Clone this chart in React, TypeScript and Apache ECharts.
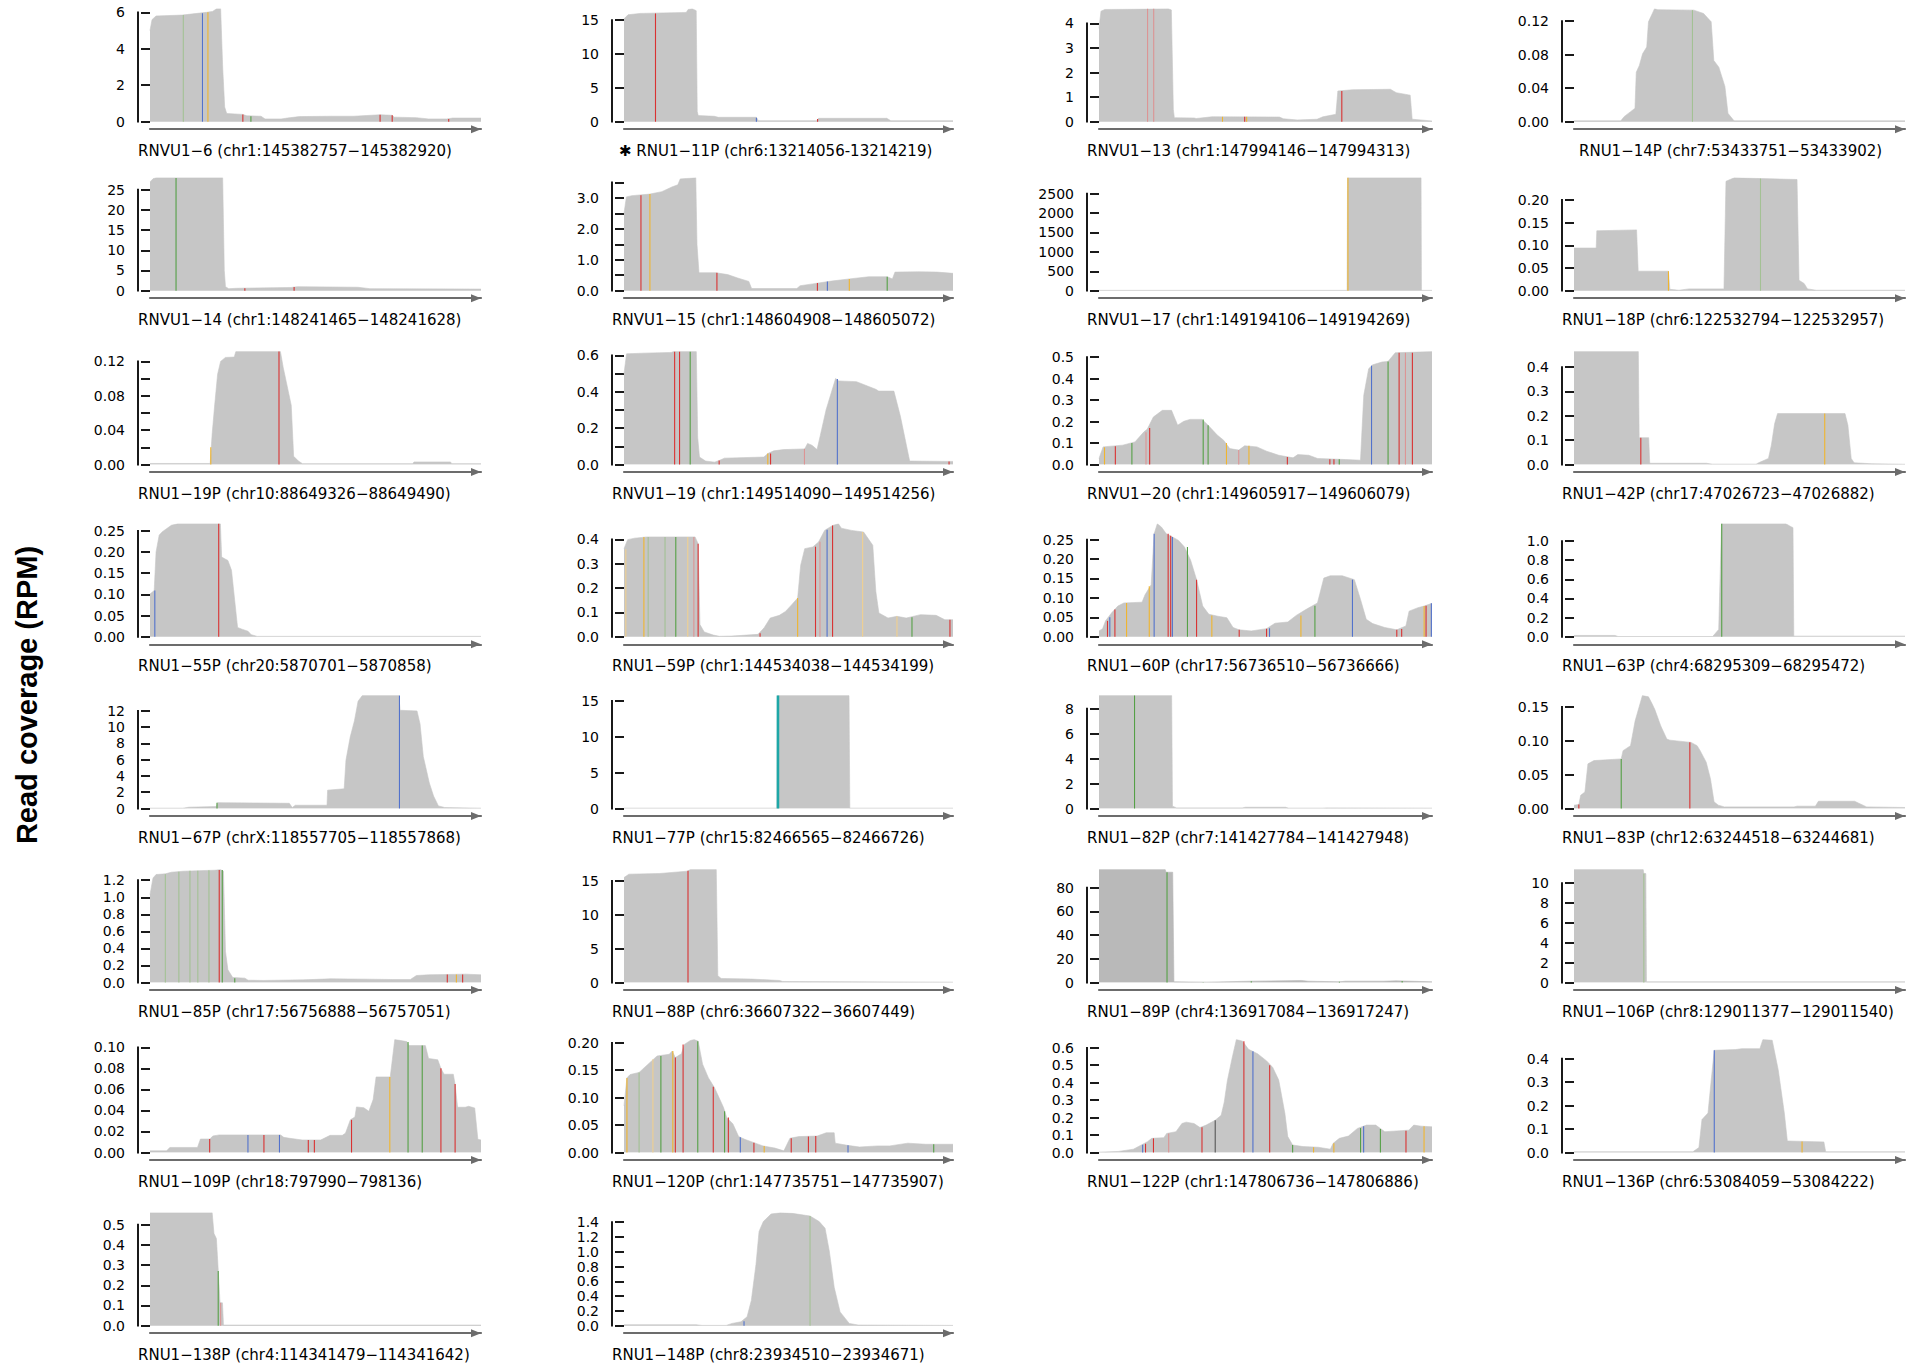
import React, { useEffect, useRef } from "react";
import * as echarts from "echarts";

// ---------- panel identity ----------
const names = ["RNVU1−6", "RNU1−11P", "RNVU1−13", "RNU1−14P", "RNVU1−14", "RNVU1−15", "RNVU1−17", "RNU1−18P",
  "RNU1−19P", "RNVU1−19", "RNVU1−20", "RNU1−42P", "RNU1−55P", "RNU1−59P", "RNU1−60P", "RNU1−63P",
  "RNU1−67P", "RNU1−77P", "RNU1−82P", "RNU1−83P", "RNU1−85P", "RNU1−88P", "RNU1−89P", "RNU1−106P",
  "RNU1−109P", "RNU1−120P", "RNU1−122P", "RNU1−136P", "RNU1−138P", "RNU1−148P"];
const chroms = ["chr1", "chr6", "chr1", "chr7", "chr1", "chr1", "chr1", "chr6", "chr10", "chr1", "chr1", "chr17",
  "chr20", "chr1", "chr17", "chr4", "chrX", "chr15", "chr7", "chr12", "chr17", "chr6", "chr4", "chr8",
  "chr18", "chr1", "chr1", "chr6", "chr4", "chr8"];
const starts = [145382757, 13214056, 147994146, 53433751, 148241465, 148604908, 149194106, 122532794,
  88649326, 149514090, 149605917, 47026723, 5870701, 144534038, 56736510, 68295309, 118557705, 82466565,
  141427784, 63244518, 56756888, 36607322, 136917084, 129011377, 797990, 147735751, 147806736, 53084059,
  114341479, 23934510];
const ends = [145382920, 13214219, 147994313, 53433902, 148241628, 148605072, 149194269, 122532957,
  88649490, 149514256, 149606079, 47026882, 5870858, 144534199, 56736666, 68295472, 118557868, 82466726,
  141427948, 63244681, 56757051, 36607449, 136917247, 129011540, 798136, 147735907, 147806886, 53084222,
  114341642, 23934671];
const starred = [false, true, false, false, false, false, false, false, false, false, false, false, false, false, false,
  false, false, false, false, false, false, false, false, false, false, false, false, false, false, false];

// ---------- y tick specs: step, label every n-th tick, top tick, decimals ----------
const tickStep = [2, 5, 1, 0.04, 5, 0.5, 500, 0.05, 0.02, 0.1, 0.1, 0.1, 0.05, 0.1, 0.05, 0.2, 2, 5, 2, 0.05, 0.2, 5, 20, 2, 0.02, 0.05, 0.1, 0.1, 0.1, 0.2];
const labelEvery = [1, 1, 1, 1, 1, 2, 1, 1, 2, 2, 1, 1, 1, 1, 1, 1, 1, 1, 1, 1, 1, 1, 1, 1, 1, 1, 1, 1, 1, 1];
const tickTop = [6, 15, 4, 0.12, 25, 3.5, 2500, 0.2, 0.12, 0.6, 0.5, 0.4, 0.25, 0.4, 0.25, 1.0, 12, 15, 8, 0.15, 1.2, 15, 80, 10, 0.1, 0.2, 0.6, 0.4, 0.5, 1.4];
const tickDec = [0, 0, 0, 2, 0, 1, 0, 2, 2, 1, 1, 1, 2, 1, 2, 1, 0, 0, 0, 2, 1, 0, 0, 0, 2, 2, 1, 1, 1, 1];

// ---------- coverage profiles: [position (bp from start), RPM] ----------
const covRNVU1_6 = [[0, 5.0], [1, 5.6], [3, 5.8], [16, 5.85], [28, 6.0], [31, 6.05], [33, 6.2], [35, 6.2], [36, 3.0], [37, 0.8], [38, 0.45], [46, 0.4], [48, 0.32], [55, 0.3], [57, 0.15], [65, 0.15], [68, 0.2], [74, 0.28], [90, 0.3], [101, 0.3], [114, 0.38], [120, 0.35], [121, 0.25], [132, 0.22], [138, 0.15], [147, 0.15], [150, 0.2], [164, 0.2]];
const covRNU1_11P = [[0, 15.2], [2, 15.8], [8, 16.0], [31, 16.15], [32, 16.6], [34, 16.7], [36, 16.4], [36.5, 1.5], [37, 0.9], [45, 0.8], [47, 0.65], [66, 0.65], [67, 0.15], [96, 0.15], [97, 0.5], [131, 0.5], [133, 0.15], [164, 0.15]];
const covRNVU1_13 = [[0, 3.8], [1, 4.5], [3, 4.57], [35, 4.6], [36.5, 4.55], [37.5, 0.5], [38, 0.16], [48, 0.15], [49, 0.13], [57, 0.2], [91, 0.19], [93, 0.12], [100, 0.07], [110, 0.1], [113, 0.2], [119.5, 0.3], [120.5, 1.25], [128, 1.3], [147, 1.32], [150, 1.18], [157, 1.08], [158, 0.1], [168, 0.03]];
const covRNU1_14P = [[0, 0.001], [21.5, 0.001], [23, 0.006], [26, 0.012], [28, 0.016], [28.6, 0.059], [30, 0.067], [31.5, 0.081], [33.4, 0.089], [34.2, 0.119], [37, 0.1347], [38.5, 0.1335], [55, 0.133], [59.5, 0.129], [63, 0.119], [64.2, 0.073], [66.5, 0.065], [69.3, 0.042], [70.7, 0.01], [73.5, 0.001], [152, 0.001]];
const covRNVU1_14 = [[0, 26.9], [1.5, 27.7], [3, 27.96], [36, 27.96], [36.8, 5], [37.4, 1.0], [39, 0.5], [43, 0.6], [70, 0.8], [73, 1.0], [103, 0.85], [109, 0.5], [164, 0.4]];
const covRNVU1_15 = [[0, 2.5], [1.2, 3.03], [4, 3.07], [13, 3.12], [19, 3.2], [24, 3.35], [27, 3.42], [28.2, 3.61], [36, 3.65], [36.6, 1.5], [37.6, 0.58], [46, 0.58], [52, 0.52], [57, 0.41], [62.6, 0.3], [64, 0.07], [86.7, 0.07], [88.3, 0.16], [94.6, 0.22], [104, 0.31], [113, 0.38], [122.7, 0.45], [132, 0.45], [134.6, 0.38], [135.9, 0.6], [148, 0.61], [157, 0.6], [165, 0.56]];
const covRNVU1_17 = [[0, 8], [122.2, 8], [122.4, 2908], [158.6, 2908], [158.8, 8], [164, 8]];
const covRNU1_18P = [[0, 0.094], [11, 0.094], [11.3, 0.132], [31, 0.134], [31.8, 0.043], [46.8, 0.043], [47.5, 0.003], [52, 0.001], [57, 0.004], [74.3, 0.004], [75.3, 0.241], [79.4, 0.249], [93, 0.247], [110.5, 0.245], [111.5, 0.023], [114, 0.016], [115.7, 0.004], [120, 0.001], [164, 0.001]];
const covRNU1_19P = [[0, 0.0012], [30, 0.0012], [31, 0.036], [32.2, 0.068], [33.7, 0.105], [35.2, 0.12], [37.6, 0.1246], [42, 0.125], [42.8, 0.1315], [65, 0.1315], [66.4, 0.113], [70.4, 0.069], [71.6, 0.0096], [74, 0.004], [76, 0.001], [131, 0.001], [131.6, 0.003], [149.8, 0.003], [150.4, 0.001], [165, 0.001]];
const covRNVU1_19 = [[0, 0.5], [1.3, 0.609], [10, 0.613], [24, 0.617], [25, 0.622], [36.7, 0.622], [37.4, 0.15], [38.3, 0.041], [41.4, 0.019], [46, 0.013], [48.3, 0.022], [51, 0.035], [71, 0.041], [73, 0.06], [76, 0.075], [81, 0.082], [91.7, 0.086], [93.2, 0.116], [95.4, 0.106], [98, 0.082], [99.5, 0.153], [102.6, 0.302], [107.4, 0.473], [109, 0.46], [118, 0.456], [127.8, 0.414], [129.3, 0.404], [137, 0.404], [140.3, 0.265], [145, 0.019], [165, 0.017], [167, 0.017]];
const covRNVU1_20 = [[0, 0.028], [2, 0.082], [11.6, 0.09], [17.6, 0.105], [22, 0.152], [23.6, 0.164], [26.6, 0.221], [31, 0.252], [35.5, 0.252], [38.5, 0.183], [41.5, 0.201], [44.5, 0.21], [50.4, 0.21], [53.4, 0.183], [58, 0.136], [61, 0.113], [64, 0.074], [68.4, 0.067], [71.3, 0.087], [77.3, 0.082], [82, 0.062], [88, 0.043], [95, 0.031], [97.3, 0.046], [102.7, 0.043], [107, 0.028], [120.6, 0.023], [128, 0.02], [129.6, 0.322], [132, 0.446], [134, 0.464], [138.5, 0.477], [141.5, 0.48], [145, 0.52], [163, 0.526]];
const covRNU1_42P = [[0, 0.464], [31.1, 0.464], [31.5, 0.11], [36.1, 0.11], [36.6, 0.005], [64, 0.005], [67, 0.0014], [88, 0.0014], [89.5, 0.008], [94, 0.025], [95.4, 0.079], [97, 0.168], [98.4, 0.209], [131, 0.209], [132.4, 0.161], [134, 0.025], [135.4, 0.007], [144, 0.003], [160, 0.001]];
const covRNU1_55P = [[0, 0.101], [2, 0.109], [2.9, 0.2], [4.4, 0.24], [5.9, 0.248], [10.2, 0.263], [13.2, 0.2666], [33.6, 0.2666], [34.2, 0.188], [37.2, 0.18], [38.9, 0.157], [40.1, 0.101], [41.8, 0.022], [43.9, 0.018], [46.8, 0.013], [48.3, 0.005], [51.2, 0.001], [158, 0.001]];
const covRNU1_59P = [[0, 0.362], [1.8, 0.399], [5.3, 0.405], [11.3, 0.41], [35, 0.41], [36.5, 0.382], [37.4, 0.05], [39.5, 0.02], [44, 0.007], [47, 0.002], [53, 0.003], [66, 0.01], [69, 0.037], [72, 0.077], [76.5, 0.088], [79.5, 0.104], [82.5, 0.131], [85.5, 0.159], [87, 0.294], [89, 0.362], [93, 0.369], [95.8, 0.389], [98.8, 0.437], [102.7, 0.457], [105.6, 0.464], [107, 0.446], [112, 0.437], [118, 0.43], [122.5, 0.376], [124, 0.186], [125.5, 0.098], [130, 0.077], [134.4, 0.084], [139, 0.077], [146, 0.091], [153.7, 0.088], [158, 0.07], [162, 0.07]];
const covRNU1_60P = [[0, 0.015], [1.7, 0.021], [3.1, 0.041], [6, 0.062], [8.9, 0.079], [11.7, 0.087], [20.3, 0.089], [21.7, 0.108], [24.6, 0.134], [26, 0.265], [27.5, 0.2907], [29.5, 0.282], [31.7, 0.265], [34.6, 0.257], [37.5, 0.248], [40.3, 0.231], [43.2, 0.197], [46, 0.147], [48.9, 0.079], [51.8, 0.058], [56, 0.053], [60.3, 0.049], [63.2, 0.024], [66, 0.018], [71.8, 0.015], [79, 0.021], [83, 0.035], [89, 0.038], [93, 0.055], [97.5, 0.07], [103, 0.087], [106, 0.151], [109, 0.157], [114.7, 0.157], [120.4, 0.147], [123.3, 0.096], [126, 0.045], [129, 0.034], [134.7, 0.024], [140.4, 0.018], [144.7, 0.028], [146.2, 0.066], [150.4, 0.075], [153.3, 0.079], [157, 0.086]];
const covRNU1_63P = [[0, 0.014], [20.3, 0.014], [21.8, 0.003], [68.7, 0.003], [71.7, 0.077], [73.1, 1.18], [105, 1.18], [107.5, 1.15], [108.5, 1.14], [108.9, 0.007], [164, 0.007]];
const covRNU1_67P = [[0, 0.04], [16.3, 0.04], [19.3, 0.16], [32.9, 0.24], [33.5, 0.72], [69, 0.64], [70.5, 0.12], [72, 0.4], [87.7, 0.4], [88, 2.26], [96.2, 2.42], [97.1, 5.96], [99.2, 8.78], [101.3, 10.8], [103.1, 13.2], [105.2, 13.9], [123.3, 13.9], [123.9, 12.08], [132.3, 12.0], [133.8, 10.4], [135.4, 6.4], [138.4, 3.14], [140.5, 1.53], [142.9, 0.32], [146, 0.12], [164, 0.04]];
const covRNU1_77P = [[0, 0.05], [75.3, 0.05], [75.6, 15.76], [110.8, 15.76], [111.2, 0.05], [162, 0.05]];
const covRNU1_82P = [[0, 9.06], [36, 9.06], [36.4, 0.19], [38.5, 0.05], [71, 0.05], [72.5, 0.1], [92.5, 0.1], [94, 0.03], [111, 0.03], [112.6, 0.05], [165, 0.03]];
const covRNU1_83P = [[0, 0.0049], [2.4, 0.0059], [3.3, 0.0195], [5.4, 0.0244], [6.9, 0.066], [9.9, 0.0708], [23.4, 0.0733], [24.3, 0.0855], [28, 0.0928], [30.3, 0.1295], [32.4, 0.1515], [33.9, 0.167], [36.9, 0.165], [38.5, 0.156], [40, 0.1466], [43, 0.122], [46, 0.1026], [47.5, 0.101], [58, 0.0977], [61, 0.0928], [62.5, 0.0855], [65.5, 0.0684], [67.6, 0.044], [69.4, 0.0098], [71.5, 0.0049], [74.5, 0.0024], [109, 0.0024], [110.5, 0.0034], [119.6, 0.0034], [121.1, 0.0107], [139, 0.0107], [145, 0.0024], [164, 0.0015]];
const covRNU1_85P = [[0, 1.031], [1.5, 1.227], [3, 1.267], [7.6, 1.275], [10.6, 1.294], [16.7, 1.306], [31.9, 1.318], [34.9, 1.326], [36.4, 1.306], [37.4, 0.365], [38.6, 0.149], [41, 0.059], [47, 0.051], [48.6, 0.027], [56, 0.024], [76, 0.031], [89.6, 0.043], [108, 0.039], [120, 0.035], [129, 0.035], [132, 0.082], [138, 0.09], [156.4, 0.098], [164, 0.09]];
const covRNU1_88P = [[0, 15.5], [1.9, 16.0], [13.9, 16.1], [24.6, 16.44], [25.8, 16.69], [35.9, 16.69], [36.5, 1.0], [37.8, 0.6], [49.8, 0.5], [60.5, 0.3], [61.7, 0.15], [128, 0.05]];
const covRNU1_89P = [[0, 95.3], [32.6, 95.3], [33, 93.0], [36.3, 93.0], [36.9, 0.6], [53, 0.3], [75, 1.1], [99.8, 1.7], [103, 1.1], [118.4, 0.6], [121.5, 1.1], [140, 1.1], [146.3, 1.4], [164, 0.6]];
const covRNU1_106P = [[0, 11.36], [34.3, 11.36], [34.6, 10.95], [35.6, 10.95], [35.9, 0.07], [164, 0.07]];
const covRNU1_109P = [[0, 0.0016], [7.4, 0.0016], [8.8, 0.0048], [21.1, 0.0048], [22.4, 0.0128], [26.6, 0.0128], [27.9, 0.0157], [30.7, 0.0167], [58, 0.0167], [59.4, 0.0144], [62, 0.0135], [67.6, 0.0119], [75.8, 0.0119], [80, 0.0163], [85.4, 0.0163], [86.8, 0.0183], [89, 0.0311], [91, 0.0337], [91.7, 0.0433], [95, 0.0425], [97.2, 0.0391], [99.1, 0.0503], [100.4, 0.0718], [106.7, 0.0718], [108.7, 0.1074], [114, 0.1054], [115, 0.1016], [122.3, 0.1016], [123.7, 0.0894], [127.8, 0.0881], [129.2, 0.0798], [130.6, 0.0744], [134.7, 0.0744], [135.5, 0.0647], [136.6, 0.043], [140, 0.043], [141.5, 0.0439], [144.2, 0.0423], [145.6, 0.0125], [147, 0.0119]];
const covRNU1_120P = [[0, 0.085], [1.4, 0.136], [2.9, 0.142], [7.2, 0.146], [11.5, 0.161], [15.8, 0.176], [21.6, 0.179], [23, 0.185], [24.5, 0.173], [27.4, 0.18], [28.8, 0.197], [31.7, 0.2042], [33.5, 0.206], [35.4, 0.203], [37.5, 0.161], [40.3, 0.136], [43.2, 0.118], [47.5, 0.082], [49, 0.064], [52, 0.052], [54.7, 0.029], [57.6, 0.024], [62, 0.018], [66.3, 0.012], [72, 0.008], [76.3, 0.003], [79.2, 0.026], [83.5, 0.029], [92.2, 0.03], [96.5, 0.036], [100.3, 0.036], [100.8, 0.017], [106.6, 0.013], [112.4, 0.01], [121, 0.012], [126.8, 0.012], [135.4, 0.017], [144, 0.015], [157, 0.015]];
const covRNU1_122P = [[0, 0.002], [8.8, 0.006], [15.6, 0.019], [19.2, 0.043], [22, 0.062], [23.9, 0.081], [29.4, 0.085], [30.7, 0.109], [34.9, 0.119], [37.6, 0.166], [39.5, 0.174], [43.1, 0.166], [45.8, 0.143], [48.6, 0.157], [52.7, 0.185], [55.4, 0.213], [56.8, 0.289], [58.2, 0.411], [60.4, 0.543], [62.3, 0.6475], [65.1, 0.638], [67.8, 0.591], [71.9, 0.566], [76, 0.525], [78.8, 0.487], [81.5, 0.415], [84.3, 0.223], [85.6, 0.091], [87.8, 0.043], [92.5, 0.034], [99.4, 0.03], [104.9, 0.019], [106.2, 0.053], [109, 0.081], [113.1, 0.094], [117.2, 0.138], [121.3, 0.157], [125.5, 0.157], [128.2, 0.132], [129.6, 0.119], [140.5, 0.128], [142.7, 0.157], [146, 0.151], [151, 0.147]];
const covRNU1_136P = [[0, 0.003], [58.9, 0.003], [61.9, 0.021], [63.4, 0.14], [66.4, 0.168], [68, 0.309], [69.5, 0.435], [80, 0.438], [83.1, 0.442], [92.1, 0.442], [93.6, 0.481], [98.2, 0.478], [101.2, 0.351], [104.2, 0.168], [105.7, 0.049], [123.8, 0.045], [124.7, 0.003], [164, 0.003]];
const covRNU1_138P = [[0, 0.559], [30.8, 0.559], [31.7, 0.456], [32.9, 0.431], [33.8, 0.275], [34.7, 0.113], [35.9, 0.113], [36.4, 0.003], [164, 0.003]];
const covRNU1_148P = [[0, 0.013], [35.5, 0.013], [38.4, 0.004], [50.3, 0.004], [53.2, 0.031], [57.6, 0.053], [60.6, 0.12], [62.7, 0.342], [65, 0.831], [66.5, 1.276], [68.6, 1.409], [72.4, 1.511], [76.9, 1.529], [82.8, 1.52], [91.6, 1.484], [96.1, 1.409], [99, 1.32], [101.1, 1.009], [103.5, 0.52], [106.4, 0.187], [110.9, 0.031], [115.3, 0.009], [162, 0.004]];

// ---------- mismatched bases: [position, RPM, base colour index] ----------
const misRNVU1_6 = [[16.5, 5.85, 7], [26, 5.95, 2], [28.7, 6.0, 3], [46, 0.4, 0], [50, 0.3, 1], [114, 0.38, 0], [120, 0.35, 0], [148, 0.15, 0]];
const misRNU1_11P = [[15.7, 16.0, 0], [66, 0.6, 2], [96.5, 0.4, 0]];
const misRNVU1_13 = [[24.5, 4.6, 4], [27.6, 4.6, 4], [62.3, 0.2, 3], [73.5, 0.2, 0], [74.5, 0.2, 3], [122.5, 1.25, 0]];
const misRNU1_14P = [[54.4, 0.133, 7]];
const misRNVU1_14 = [[12.9, 27.9, 1], [47, 0.6, 0], [71.4, 0.9, 0]];
const misRNVU1_15 = [[8.5, 3.08, 0], [13, 3.12, 3], [46.6, 0.58, 0], [97, 0.25, 0], [102, 0.3, 2], [113, 0.38, 3], [132, 0.45, 1]];
const misRNVU1_17 = [[122.6, 2908, 3]];
const misRNU1_18P = [[46.8, 0.043, 3], [92.4, 0.247, 7]];
const misRNU1_19P = [[64.3, 0.1315, 0], [30.3, 0.02, 3]];
const misRNVU1_19 = [[25.7, 0.62, 0], [28.2, 0.62, 0], [33.6, 0.62, 1], [48.3, 0.022, 0], [73, 0.06, 3], [74.4, 0.06, 0], [91.6, 0.086, 4], [108.3, 0.47, 2], [165, 0.017, 0]];
const misRNVU1_20 = [[2.7, 0.08, 3], [8, 0.085, 0], [16.1, 0.1, 1], [23, 0.15, 4], [24.8, 0.17, 0], [51, 0.21, 1], [53.4, 0.183, 1], [62.4, 0.1, 3], [68.4, 0.067, 4], [73.4, 0.087, 3], [92.2, 0.035, 0], [113, 0.025, 0], [115, 0.025, 0], [117.6, 0.025, 1], [133.4, 0.46, 2], [141.5, 0.48, 1], [146.9, 0.52, 0], [150, 0.52, 4], [153.4, 0.52, 0]];
const misRNU1_42P = [[32.3, 0.11, 0], [121.2, 0.209, 3]];
const misRNU1_55P = [[2.3, 0.109, 2], [32.8, 0.2666, 0]];
const misRNU1_59P = [[0.9, 0.36, 8], [9.8, 0.41, 3], [11.9, 0.41, 7], [20.2, 0.41, 7], [25.5, 0.41, 1], [31.4, 0.41, 8], [34.4, 0.41, 4], [36.5, 0.382, 0], [67, 0.015, 0], [85.5, 0.159, 3], [94.3, 0.37, 0], [96.5, 0.39, 4], [100, 0.44, 2], [102.7, 0.457, 0], [117.5, 0.43, 8], [134.4, 0.084, 8], [141.8, 0.08, 1], [160.5, 0.07, 0]];
const misRNU1_60P = [[4, 0.041, 0], [5.1, 0.05, 2], [7.5, 0.07, 0], [13, 0.087, 3], [23.7, 0.13, 3], [26, 0.265, 2], [32.6, 0.265, 0], [33.8, 0.26, 0], [34.6, 0.257, 2], [41.7, 0.231, 1], [46, 0.147, 0], [53.2, 0.055, 3], [66.1, 0.018, 0], [79, 0.021, 0], [80.4, 0.022, 2], [95.2, 0.055, 3], [101.8, 0.08, 1], [119.5, 0.147, 2], [140.4, 0.018, 0], [142.7, 0.02, 0], [153.3, 0.079, 3], [154.2, 0.08, 0], [156.7, 0.086, 2]];
const misRNU1_63P = [[73.2, 1.18, 1]];
const misRNU1_67P = [[33.2, 0.72, 1], [123.6, 13.9, 2]];
const misRNU1_77P = [[75.8, 15.76, 5]];
const misRNU1_82P = [[17.6, 9.06, 1]];
const misRNU1_83P = [[2.4, 0.006, 0], [23.4, 0.073, 1], [57.4, 0.098, 0]];
const misRNU1_85P = [[7.6, 1.27, 7], [14.3, 1.3, 7], [19.8, 1.31, 7], [23.7, 1.31, 7], [29.2, 1.318, 7], [34.3, 1.32, 0], [35.8, 1.32, 1], [42, 0.05, 1], [147.3, 0.095, 0], [151.8, 0.095, 3], [154.9, 0.095, 0]];
const misRNU1_88P = [[24.9, 16.5, 0]];
const misRNU1_89P = [[33.5, 93, 1], [51.3, 0.3, 1], [75, 1.1, 1], [118.4, 0.6, 1], [149.3, 1.2, 1]];
const misRNU1_106P = [[34.6, 10.95, 7]];
const misRNU1_109P = [[26.5, 0.0128, 0], [43.5, 0.0167, 2], [50.6, 0.0167, 0], [57.5, 0.0167, 2], [70.3, 0.0119, 0], [73, 0.0119, 0], [89.5, 0.031, 0], [106.5, 0.0718, 3], [114.6, 0.105, 1], [120.9, 0.1016, 1], [129.2, 0.08, 0], [135.5, 0.065, 0]];
const misRNU1_120P = [[1.4, 0.136, 3], [7.2, 0.146, 7], [13.8, 0.17, 8], [17.6, 0.176, 1], [23.3, 0.185, 3], [24.5, 0.173, 0], [28.2, 0.197, 0], [35.2, 0.203, 1], [42.6, 0.12, 0], [48, 0.075, 1], [49.8, 0.064, 0], [55.5, 0.028, 2], [62, 0.018, 0], [66.9, 0.012, 3], [79.8, 0.026, 0], [88, 0.029, 0], [91.5, 0.03, 0], [106.9, 0.013, 2], [147.8, 0.015, 1]];
const misRNU1_122P = [[19.8, 0.045, 2], [21.1, 0.05, 0], [24.7, 0.081, 0], [31.6, 0.109, 4], [46.7, 0.145, 0], [52.7, 0.185, 6], [65.7, 0.638, 0], [69.8, 0.58, 2], [77.4, 0.5, 0], [87.8, 0.043, 1], [97.3, 0.03, 3], [106.5, 0.053, 3], [118.6, 0.14, 1], [120, 0.15, 2], [127.6, 0.135, 1], [139.2, 0.125, 0], [147.4, 0.151, 3]];
const misRNU1_136P = [[69.5, 0.435, 2], [113, 0.047, 3]];
const misRNU1_138P = [[33.8, 0.27, 1], [35, 0.113, 4]];
const misRNU1_148P = [[59.1, 0.06, 2], [91.6, 1.484, 7]];

const coverage = [covRNVU1_6, covRNU1_11P, covRNVU1_13, covRNU1_14P, covRNVU1_14, covRNVU1_15, covRNVU1_17, covRNU1_18P,
  covRNU1_19P, covRNVU1_19, covRNVU1_20, covRNU1_42P, covRNU1_55P, covRNU1_59P, covRNU1_60P, covRNU1_63P,
  covRNU1_67P, covRNU1_77P, covRNU1_82P, covRNU1_83P, covRNU1_85P, covRNU1_88P, covRNU1_89P, covRNU1_106P,
  covRNU1_109P, covRNU1_120P, covRNU1_122P, covRNU1_136P, covRNU1_138P, covRNU1_148P];
const mismatches = [misRNVU1_6, misRNU1_11P, misRNVU1_13, misRNU1_14P, misRNVU1_14, misRNVU1_15, misRNVU1_17, misRNU1_18P,
  misRNU1_19P, misRNVU1_19, misRNVU1_20, misRNU1_42P, misRNU1_55P, misRNU1_59P, misRNU1_60P, misRNU1_63P,
  misRNU1_67P, misRNU1_77P, misRNU1_82P, misRNU1_83P, misRNU1_85P, misRNU1_88P, misRNU1_89P, misRNU1_106P,
  misRNU1_109P, misRNU1_120P, misRNU1_122P, misRNU1_136P, misRNU1_138P, misRNU1_148P];

// ---------- styling / layout ----------
const W = 1919;
const H = 1368;
const COL_X0 = [150, 624, 1099, 1574];
const COL_X1 = [481, 953, 1432, 1905];
const ROW_ZERO = [121.7, 290.7, 464.5, 636.8, 808.5, 982.5, 1152.5, 1325.7];
const PLOT_H = 113;
const AXIS_GAP = 12;
const LABEL_DX: Record<number, number> = { 1: 7, 3: 17 };
const FILL = "#c6c6c6";
const FILL_DARK: Record<number, string> = { 22: "#b9b9b9" };
const MIS_COLORS = ["#d93232", "#55a046", "#5272cc", "#f0b52e", "#dc9494", "#1ea7a7", "#555555", "#a3c194", "#f0d090"];
const PANEL_FONT = '"DejaVu Sans", "Liberation Sans", Arial, sans-serif';

function buildOption() {
  const grid: any[] = [];
  const xAxis: any[] = [];
  const yAxis: any[] = [];
  const series: any[] = [];
  const graphic: any[] = [];

  coverage.forEach((cov, i) => {
    const col = i % 4;
    const row = Math.floor(i / 4);
    const x0 = COL_X0[col];
    const x1 = COL_X1[col];
    const zy = ROW_ZERO[row];
    const L = ends[i] - starts[i] + 1;
    const yMax = Math.max(...cov.map((d) => d[1]));
    const step = tickStep[i];
    const top = tickTop[i];
    const dec = tickDec[i];
    const n = Math.round(top / step);
    const tickVals: number[] = [];
    for (let k = 0; k <= n; k++) tickVals.push(+(k * step).toFixed(6));
    const labelVals = tickVals.filter((_, k) => k % labelEvery[i] === 0);
    const fill = FILL_DARK[i] || FILL;

    grid.push({ left: x0, top: zy - PLOT_H, width: x1 - x0, height: PLOT_H });
    xAxis.push({
      type: "value",
      gridIndex: i,
      min: 0,
      max: L,
      axisLine: {
        show: true,
        onZero: false,
        lineStyle: { color: "#6c6c6c", width: 2.2 },
        symbol: ["none", "triangle"],
        symbolSize: [8, 10],
        symbolOffset: [0, -5],
      },
      offset: 7.5,
      axisTick: { show: false },
      axisLabel: { show: false },
      splitLine: { show: false },
    });
    yAxis.push({
      type: "value",
      gridIndex: i,
      min: 0,
      max: yMax,
      offset: AXIS_GAP,
      axisLine: { show: false },
      axisTick: { show: true, length: 9, lineStyle: { color: "#000", width: 1.8 }, customValues: tickVals },
      axisLabel: {
        show: true,
        customValues: labelVals,
        formatter: (v: number) => Number(v).toFixed(dec),
        margin: 13,
        fontFamily: PANEL_FONT,
        fontSize: 14,
        color: "#000",
      },
      splitLine: { show: false },
    });
    series.push({
      type: "line",
      xAxisIndex: i,
      yAxisIndex: i,
      data: cov,
      symbol: "none",
      showSymbol: false,
      silent: true,
      lineStyle: { width: 0.6, color: fill },
      areaStyle: { color: fill, opacity: 1 },
      z: 2,
    });
    series.push({
      type: "custom",
      xAxisIndex: i,
      yAxisIndex: i,
      data: mismatches[i],
      encode: { x: 0, y: 1 },
      silent: true,
      z: 3,
      renderItem: (params: any, api: any) => {
        const x = api.value(0);
        const h = api.value(1);
        const c = api.value(2);
        const a = api.coord([x, 0]);
        const b = api.coord([x, h]);
        const w = c === 5 ? 2.6 : 1.1;
        return {
          type: "rect",
          shape: { x: a[0] - w / 2, y: b[1], width: w, height: a[1] - b[1] },
          style: { fill: MIS_COLORS[c] },
        };
      },
    });
    series.push({
      type: "custom",
      xAxisIndex: i,
      yAxisIndex: i,
      data: [[0, top]],
      encode: { x: 0, y: 1 },
      silent: true,
      z: 4,
      renderItem: (params: any, api: any) => {
        const a = api.coord([0, 0]);
        const b = api.coord([0, api.value(1)]);
        const x = a[0] - AXIS_GAP;
        return {
          type: "line",
          shape: { x1: x, y1: a[1] + 0.9, x2: x, y2: b[1] - 0.9 },
          style: { stroke: "#000", lineWidth: 1.8 },
        };
      },
    });

    const label = (starred[i] ? "✱ " : "") + names[i] + " (" + chroms[i] + ":" + starts[i] +
      (starred[i] ? "-" : "−") + ends[i] + ")";
    graphic.push({
      type: "text",
      x: x0 - AXIS_GAP + (LABEL_DX[i] || 0),
      y: zy + 29,
      silent: true,
      style: {
        text: label,
        font: '15px ' + PANEL_FONT,
        fill: "#000",
        align: "left",
        verticalAlign: "middle",
      },
    });
  });

  graphic.push({
    type: "text",
    x: 27,
    y: 695,
    rotation: Math.PI / 2,
    silent: true,
    style: {
      text: "Read coverage (RPM)",
      font: 'bold 29px "Liberation Sans", Arial, sans-serif',
      fill: "#000",
      align: "center",
      verticalAlign: "middle",
    },
  });

  return {
    animation: false,
    backgroundColor: "#ffffff",
    grid,
    xAxis,
    yAxis,
    series,
    graphic,
  };
}

export default function App() {
  const ref = useRef<HTMLDivElement>(null);
  useEffect(() => {
    document.body.style.margin = "0";
    if (!ref.current) return;
    const chart = echarts.init(ref.current, null, { renderer: "svg", width: W, height: H });
    chart.setOption(buildOption());
    return () => chart.dispose();
  }, []);
  return <div ref={ref} style={{ width: W, height: H }} />;
}
